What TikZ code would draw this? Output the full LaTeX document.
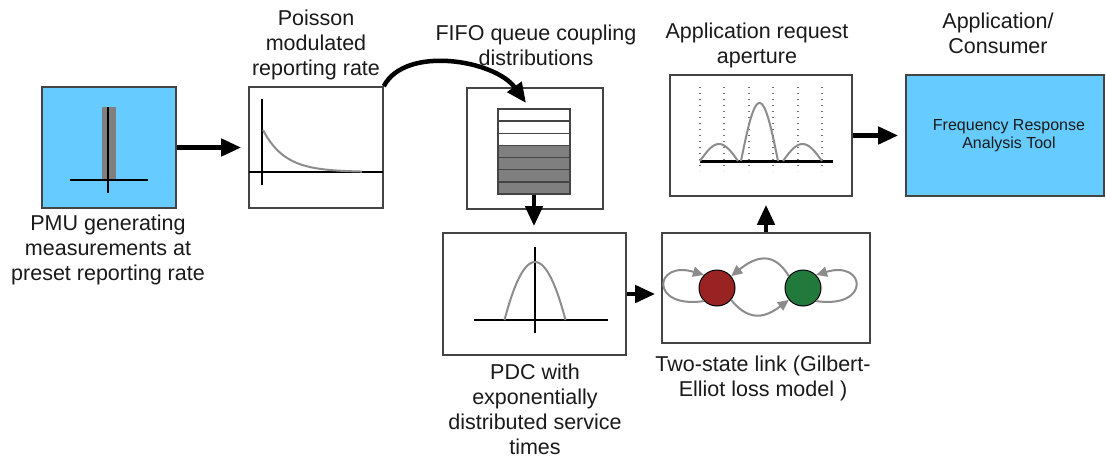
\documentclass[tikz,border=0pt]{standalone}
\usepackage{fontspec}
\setmainfont{Liberation Sans}
\usetikzlibrary{arrows.meta}
\definecolor{skyfill}{HTML}{66CCFF}
\definecolor{boxline}{HTML}{444444}
\definecolor{curvegray}{HTML}{8C8C8C}
\definecolor{barfill}{HTML}{7F7F7F}
\definecolor{stategood}{HTML}{217A3C}
\definecolor{statebad}{HTML}{992222}
\definecolor{txt}{HTML}{1A1A1A}
\begin{document}
\begin{tikzpicture}[x=1pt,y=-1pt,
  box/.style={draw=boxline, line width=1.6pt, inner sep=0pt, fill=white},
  skybox/.style={box, fill=skyfill},
  flow/.style={line width=4.5pt, -{Triangle[length=20pt,width=17pt]}},
  axis/.style={line width=2.4pt, black},
  trace/.style={line width=2pt, curvegray},
  grid/.style={line width=1.4pt, curvegray!80!black, dash pattern=on 1.4pt off 4.6pt},
  loopy/.style={line width=2pt, curvegray, -{Triangle[length=11pt,width=10pt]}},
  state/.style={circle, draw=black, line width=1pt, minimum size=36pt, inner sep=0pt},
  txtlbl/.style={font=\fontsize{21.5}{25}\selectfont, align=center, text=txt, inner sep=0pt},
]
\fill[white] (0,0) rectangle (1106,458);
\useasboundingbox (0,0) rectangle (1106,458);

% ---- boxes ----
\node[skybox, minimum width=134pt, minimum height=121pt] (b1) at (109,147.5) {};
\node[box, minimum width=134pt, minimum height=121pt] (b2) at (316,147.5) {};
\node[box, minimum width=136pt, minimum height=121pt] (b3) at (535,148.5) {};
\node[box, minimum width=183pt, minimum height=122pt] (b4) at (534.5,294) {};
\node[box, minimum width=208pt, minimum height=110pt] (b5) at (766,288) {};
\node[box, minimum width=182pt, minimum height=121pt] (b6) at (761,135.5) {};
\node[skybox, minimum width=198pt, minimum height=121pt,
      font=\fontsize{16}{18.5}\selectfont, align=center, text=txt] (b7) at (1005,135.5)
      {\hspace*{8pt}Frequency Response\\\hspace*{8pt}Analysis Tool};

% ---- PMU: single spectral line ----
\fill[barfill] (102,107) rectangle (116,180);
\draw[axis] (108,107) -- (108,193);
\draw[axis] (70,180) -- (148,180);

% ---- Poisson modulated rate: decaying curve ----
\draw[axis] (262,99) -- (262,185);
\draw[axis] (249,172) -- (383,172);
\draw[trace] plot[domain=263:362, samples=60] (\x, {172-42*exp(-(\x-263)/22)});

% ---- FIFO queue ----
\node[draw=boxline, line width=1.4pt, minimum width=72pt, minimum height=85pt, inner sep=0pt] (stack) at (534,151.5) {};
\foreach \i in {0,...,6} {
  \pgfmathsetmacro{\ytop}{109+\i*85/7}
  \pgfmathsetmacro{\ybot}{109+(\i+1)*85/7}
  \ifnum\i>2
    \filldraw[fill=barfill, draw=boxline, line width=1.4pt] (498,\ytop) rectangle (570,\ybot);
  \else
    \draw[draw=boxline, line width=1.4pt] (498,\ytop) rectangle (570,\ybot);
  \fi
}
\coordinate (qin) at (526,103);

% ---- PDC: service time distribution ----
\draw[axis] (535,247) -- (535,333);
\draw[axis] (474,320) -- (608,320);
\draw[trace] plot[domain=-1:1, samples=50] ({535+30.5*\x}, {320-58*(1-\x*\x)});

% ---- Gilbert-Elliot two-state link ----
\node[state, fill=statebad] (bad) at (717,288) {};
\node[state, fill=stategood] (good) at (803,288) {};
\draw[loopy] (bad.225) .. controls +(-55,8) and +(-50,-15) .. (bad.135);
\draw[loopy] (good.315) .. controls +(55,8) and +(50,-15) .. (good.45);
\draw[loopy] (good.140) .. controls +(-15,-25) and +(25,-20) .. (bad.40);
\draw[loopy] (bad.-40) .. controls +(20,25) and +(-20,15) .. (good.220);

% ---- aperture: sinc-like lobes ----
\foreach \gx in {700,724,749,773,798,822}
  \draw[grid] (\gx,87) -- (\gx,171);
\draw[line width=3pt, black] (700,161) -- (833,161);
\draw[trace] plot[domain=0:180, samples=40] ({700+38*\x/180}, {161-17*sin(\x)});
\draw[trace] plot[domain=0:180, samples=50] ({741+37*\x/180}, {161-58*sin(\x)});
\draw[trace] plot[domain=0:180, samples=40] ({783+39*\x/180}, {161-17*sin(\x)});

% ---- flow arrows ----
\draw[flow, shorten >=7pt] (b1.east) -- (b2.west);
\draw[flow] (b2.north east) .. controls (405,45) and (495,60) .. (qin);
\draw[flow, shorten >=6pt] (stack.south) -- (stack.south |- b4.north);
\draw[flow, shorten >=6pt] (b4.east) -- (b4.east -| b5.west);
\draw[flow, shorten >=8pt] (b5.north) -- (b5.north |- b6.south);
\draw[flow, shorten >=7pt] (b6.east) -- (b7.west);

% ---- captions ----
\node[txtlbl] (lpmu) at (108,250) {PMU generating\\measurements at\\preset reporting rate};
\node[txtlbl] (lpoisson) at (316,45) {Poisson\\modulated\\reporting rate};
\node[txtlbl] (lfifo) at (536,45.5) {FIFO queue coupling\\distributions};
\node[txtlbl] (lapert) at (757,45.5) {Application request\\aperture};
\node[txtlbl] (lcons) at (998,33) {Application/\\Consumer};
\node[txtlbl] (lpdc) at (535,409) {PDC with\\exponentially\\distributed service\\times};
\node[txtlbl] (llink) at (763,378.5) {Two-state link (Gilbert-\\Elliot loss model )};
\end{tikzpicture}
\end{document}
